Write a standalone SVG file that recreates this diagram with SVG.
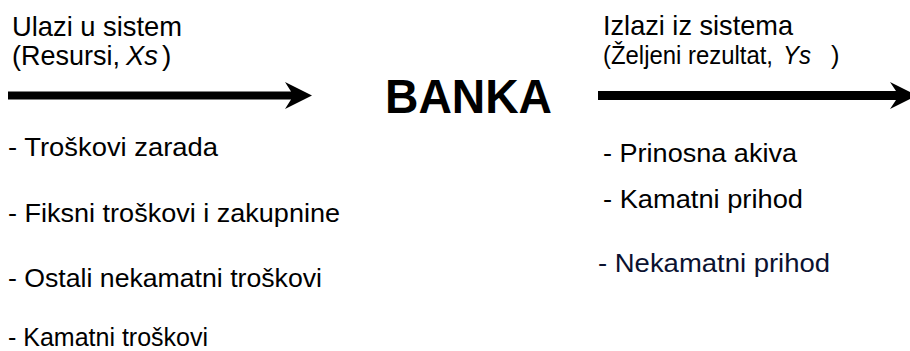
<svg xmlns="http://www.w3.org/2000/svg" width="910" height="351" viewBox="0 0 910 351">
<style>
text{font-family:"Liberation Sans",Arial,sans-serif;fill:#000}
.hd{font-size:28px}
.hd2{font-size:25.5px}
.li{font-size:25px}
.it{font-style:italic}
.bank{font-size:48px;font-weight:bold}
.arrow{fill:#000}
</style>
<rect width="910" height="351" fill="#fff"/>
<g id="inputs-label">
<text class="hd" x="12" y="36" textLength="170" lengthAdjust="spacingAndGlyphs">Ulazi u sistem</text>
<text class="hd" x="12" y="65" textLength="108" lengthAdjust="spacingAndGlyphs">(Resursi,</text>
<text class="hd it" x="126" y="65" textLength="32" lengthAdjust="spacingAndGlyphs">Xs</text>
<text class="hd" x="162" y="65">)</text>
</g>
<g id="outputs-label">
<text class="hd" x="603" y="35" textLength="190" lengthAdjust="spacingAndGlyphs">Izlazi iz sistema</text>
<text class="hd2" x="603" y="64" textLength="170" lengthAdjust="spacingAndGlyphs">(Željeni rezultat,</text>
<text class="hd2 it" x="783" y="64" textLength="28" lengthAdjust="spacingAndGlyphs">Ys</text>
<text class="hd2" x="831" y="64">)</text>
</g>
<g id="banka">
<text class="bank" x="385" y="113" textLength="167" lengthAdjust="spacingAndGlyphs">BANKA</text>
</g>
<g id="connectors">
<g id="arrow-in">
<rect class="arrow" x="8" y="91.5" width="284" height="8"/>
<polygon class="arrow" points="285,82 312,95.5 285,109 291,99.5 291,91.5"/>
</g>
<g id="arrow-out">
<rect class="arrow" x="598" y="91" width="300" height="9"/>
<polygon class="arrow" points="890,82 917,95.5 890,109 896,100 896,91"/>
</g>
</g>
<g id="inputs-list">
<text class="li" x="8" y="156" textLength="210" lengthAdjust="spacingAndGlyphs">- Troškovi zarada</text>
<text class="li" x="8" y="222" textLength="332" lengthAdjust="spacingAndGlyphs">- Fiksni troškovi i zakupnine</text>
<text class="li" x="8" y="287" textLength="314" lengthAdjust="spacingAndGlyphs">- Ostali nekamatni troškovi</text>
<text class="li" x="8" y="346" textLength="200" lengthAdjust="spacingAndGlyphs">- Kamatni troškovi</text>
</g>
<g id="outputs-list">
<text class="li" x="603" y="162" textLength="194" lengthAdjust="spacingAndGlyphs">- Prinosna akiva</text>
<text class="li" x="603" y="208" textLength="200" lengthAdjust="spacingAndGlyphs">- Kamatni prihod</text>
<text class="li" x="598" y="272" textLength="232" lengthAdjust="spacingAndGlyphs" style="fill:#0b1230">- Nekamatni prihod</text>
</g>
</svg>
